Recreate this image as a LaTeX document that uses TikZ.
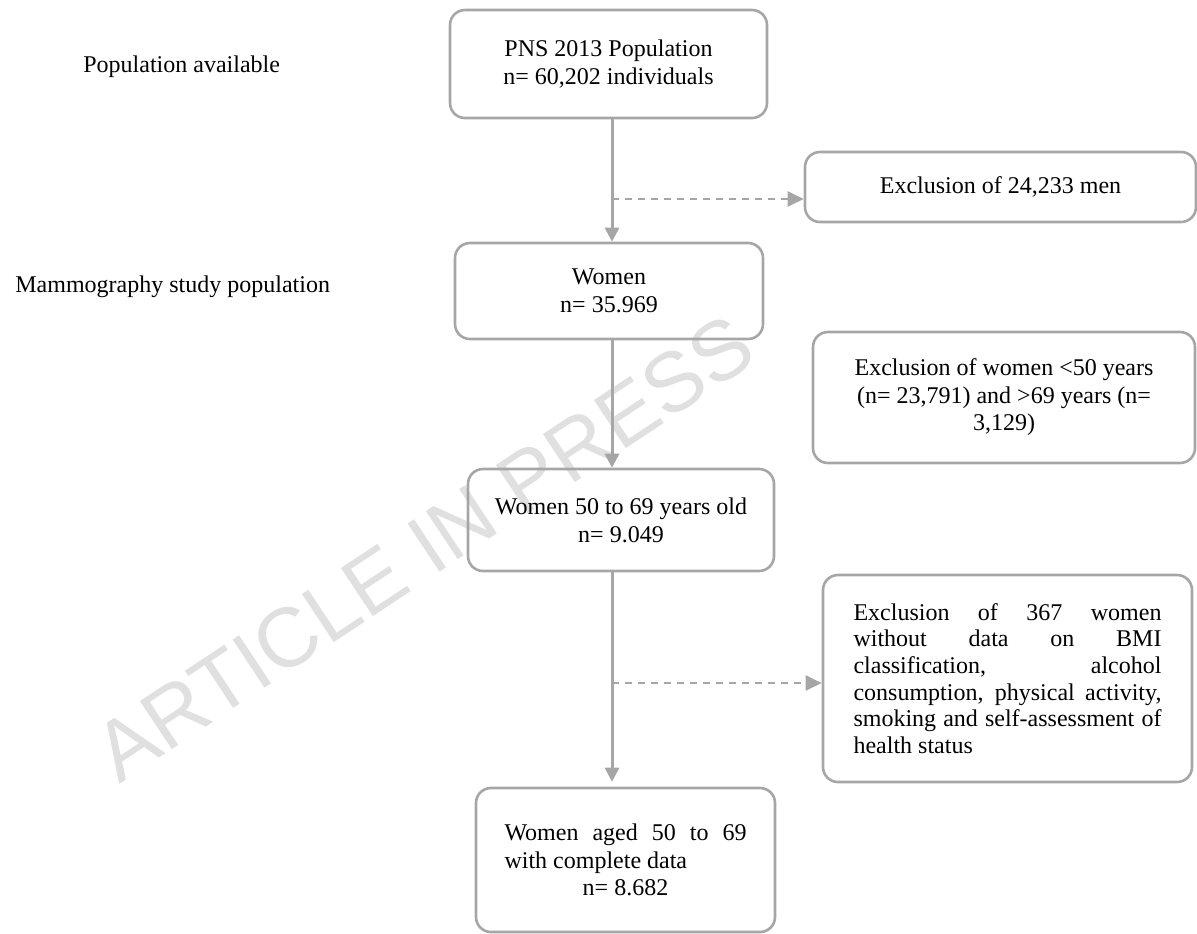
\documentclass[tikz,border=0pt]{standalone}
\usepackage{fontspec}
\setmainfont{Liberation Serif}
\newfontfamily\wmfont{Liberation Sans}
\definecolor{boxgray}{RGB}{166, 166, 166}
\definecolor{wmgray}{RGB}{224, 224, 224}
\usetikzlibrary{arrows.meta, positioning}
\newcommand{\loosepar}{\tolerance=10000\relax\hyphenpenalty=10000\relax}

\begin{document}
\begin{tikzpicture}[x=0.5pt, y=-0.5pt,
    stage/.style={draw=boxgray, line width=1.3pt, rounded corners=7.5pt, inner sep=0pt, align=center, font=\fontsize{12}{14}\selectfont},
    side/.style={font=\fontsize{12}{14}\selectfont, anchor=west, inner sep=0pt},
    flow/.style={draw=boxgray, line width=1.5pt, -{Triangle[length=7pt, width=7pt]}},
    excl/.style={draw=boxgray, line width=1pt, dash pattern=on 3.5pt off 3pt, -{Triangle[length=8pt, width=7.5pt]}}]
  \useasboundingbox (0, 0) rectangle (1197, 933);

  % Watermark behind everything
  \node[font=\wmfont\fontsize{42}{42}\selectfont, text=wmgray, rotate=33.5, inner sep=0pt] (press) at (424, 548) {ARTICLE IN PRESS};

  % Row labels on the left
  \node[side] (avail) at (83, 67) {Population available};
  \node[side] (study) at (15, 287) {Mammography study population};

  % Main column
  \node[stage, minimum width=158.5pt, minimum height=54pt] (pns) at (608.5, 64) {PNS 2013 Population\\n= 60,202 individuals};
  \node[stage, minimum width=154pt, minimum height=48pt] (women) at (609, 291) {Women\\n= 35.969};
  \node[stage, minimum width=153pt, minimum height=51pt] (target) at (621, 520) {Women 50 to 69 years old\\n= 9.049};
  \node[stage, minimum width=149.5pt, minimum height=72pt, text width=121pt, align=justify,
        font=\fontsize{12}{13.75}\selectfont\loosepar] (complete) at (625.5, 860)
    {Women aged 50 to 69\linebreak with complete data\par{\centering n= 8.682\par}};

  % Exclusions on the right
  \node[stage, minimum width=195.5pt, minimum height=35pt] (men) at (1000.5, 187) {Exclusion of 24,233 men};
  \node[stage, minimum width=191pt, minimum height=65.5pt, font=\fontsize{12}{13.75}\selectfont] (agecut) at (1004, 397.5)
    {Exclusion of women <50 years\\(n= 23,791) and >69 years (n=\\3,129)};
  \node[stage, minimum width=184.5pt, minimum height=103.5pt, text width=154pt, align=justify,
        font=\fontsize{12}{13.3}\selectfont\loosepar] (missing) at (1007.5, 678.5)
    {Exclusion of 367 women\linebreak without data on BMI\linebreak classification, alcohol\linebreak consumption, physical activity,\linebreak smoking and self-assessment of\linebreak health status};

  % Arrows down the column
  \coordinate (spine) at (612, 0);
  \draw[flow] (pns.south -| spine) -- (women.north -| spine);
  \draw[flow] (women.south -| spine) -- (target.north -| spine);
  \draw[flow] (target.south -| spine) -- ([yshift=2.5pt]complete.north -| spine);

  % Dashed branches
  \coordinate (split1) at (612, 199);
  \coordinate (split2) at (612, 683);
  \draw[excl] (split1) -- (split1 -| men.west);
  \draw[excl] (split2) -- (split2 -| missing.west);
\end{tikzpicture}
\end{document}
